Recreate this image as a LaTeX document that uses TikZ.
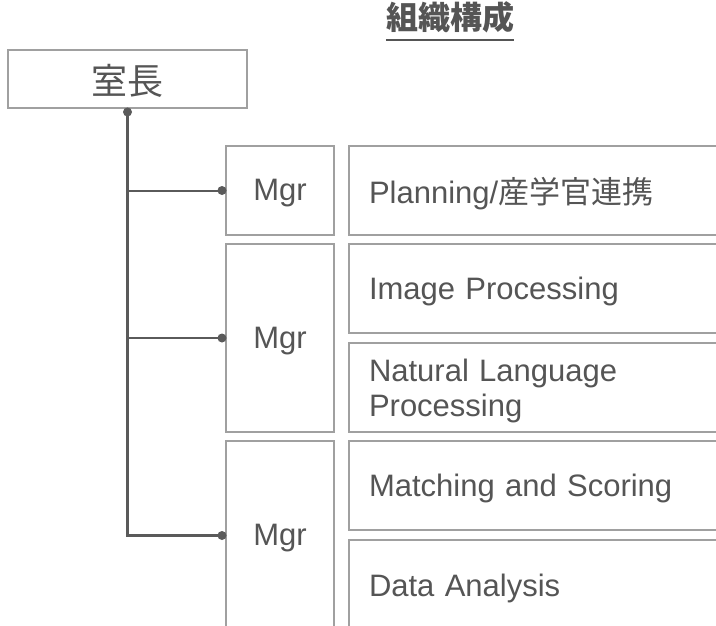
\documentclass[tikz,border=0pt]{standalone}
\usepackage{fontspec}
\setmainfont{Liberation Sans}
\newfontfamily\jp{Noto Sans CJK JP}
\definecolor{txtgray}{HTML}{555555}
\definecolor{boxgray}{HTML}{A0A0A0}
\definecolor{linegray}{HTML}{5A5A5A}
% sets a line of box text slightly below its natural centre
\newcommand\dn[1]{\raisebox{-3pt}[\height][\depth]{#1}}
\begin{document}
\begin{tikzpicture}[x=1pt,y=-1pt,
  box/.style={draw=boxgray, line width=1.4pt, fill=white, outer sep=0pt,
              text=txtgray, font=\fontsize{31}{35}\selectfont},
  unitbox/.style={box, minimum width=391pt, text width=351pt, inner xsep=20pt,
                  align=left, minimum height=89pt},
  dotmark/.style={circle, fill=linegray, inner sep=0pt, minimum size=9pt},
  trunk/.style={draw=linegray, line width=2.4pt},
  branch/.style={draw=linegray, line width=2pt}]
\useasboundingbox (0,0) rectangle (716,626);
\clip (0,0) rectangle (716,626);

% heading
\node[inner sep=0pt, anchor=base, text=txtgray,
      font=\jp\bfseries\fontsize{32}{36}\selectfont] (title) at (450,30) {組織構成};
\draw[txtgray, line width=2pt] ([yshift=-10pt]title.base west) -- ([yshift=-10pt]title.base east);

% head of the office
\node[box, minimum width=239pt, minimum height=58pt,
      font=\jp\fontsize{36}{40}\selectfont] (head) at (127.5,79) {\raisebox{-2pt}[\height][\depth]{室長}};

% managers
\node[box, minimum width=108pt, minimum height=89pt]  (mgr1) at (280,190.5) {\dn{Mgr}};
\node[box, minimum width=108pt, minimum height=188pt] (mgr2) at (280,338)   {\dn{Mgr}};
\node[box, minimum width=108pt, minimum height=189pt] (mgr3) at (280,535.5) {\dn{Mgr}};

% units
\node[unitbox, anchor=north west] (plan)  at (349,146) {\dn{Planning/{\jp 産学官連携}}};
\node[unitbox, anchor=north west] (img)   at (349,244) {\dn{Image Processing}};
\node[unitbox, anchor=north west] (nlp)   at (349,343) {\dn{Natural Language}\\\dn{Processing}};
\node[unitbox, anchor=north west] (match) at (349,441) {\dn{Matching and Scoring}};
\node[unitbox, anchor=north west, minimum height=90pt] (data) at (349,540) {\dn{Data Analysis}};

% connectors
\coordinate (root) at ([yshift=-4pt]head.south);
\coordinate (in1) at ([xshift=-4pt]mgr1.west);
\coordinate (in2) at ([xshift=-4pt]mgr2.west);
\coordinate (in3) at ([xshift=-4pt]mgr3.west);
\draw[trunk] (root) |- (in3);
\draw[branch] (root |- in1) -- (in1);
\draw[branch] (root |- in2) -- (in2);
\node[dotmark] at (root) {};
\node[dotmark] at (in1) {};
\node[dotmark] at (in2) {};
\node[dotmark] at (in3) {};
\end{tikzpicture}
\end{document}
